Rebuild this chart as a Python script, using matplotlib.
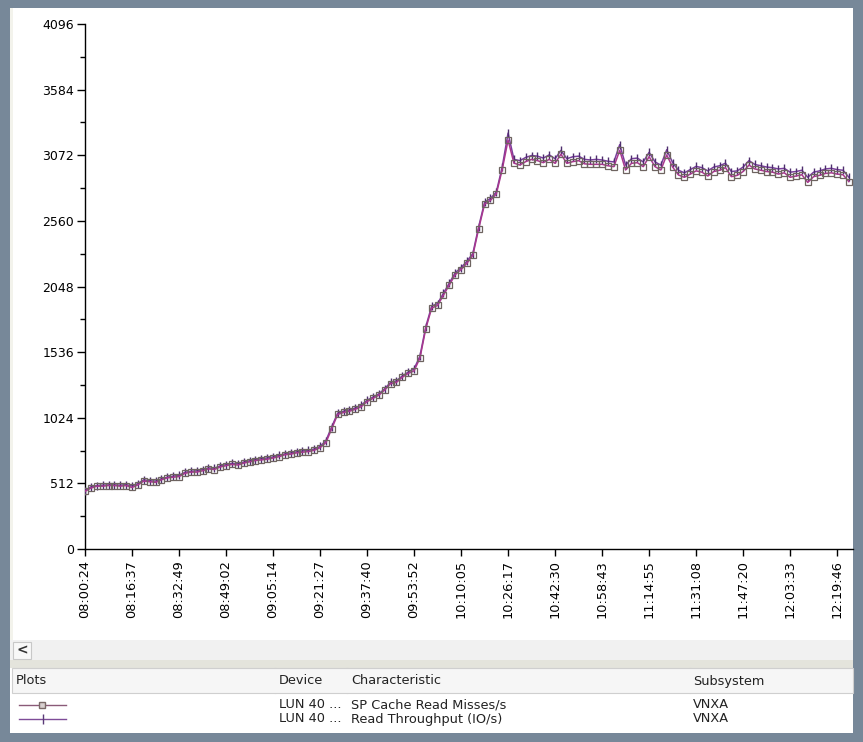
import matplotlib
matplotlib.use("Agg")
import matplotlib.pyplot as plt
from matplotlib.patches import Rectangle
from matplotlib.lines import Line2D

# ---------------- data ----------------
time_labels = ["08:00:24", "08:16:37", "08:32:49", "08:49:02", "09:05:14", "09:21:27",
               "09:37:40", "09:53:52", "10:10:05", "10:26:17", "10:42:30", "10:58:43",
               "11:14:55", "11:31:08", "11:47:20", "12:03:33", "12:19:46"]
y_ticks = [0, 512, 1024, 1536, 2048, 2560, 3072, 3584, 4096]

cache_read_misses = [
    450, 475, 490, 490, 495, 495, 490, 495, 480, 500,
    530, 525, 520, 540, 555, 560, 565, 590, 600, 600,
    610, 625, 620, 640, 650, 660, 655, 670, 680, 690,
    695, 700, 710, 720, 735, 740, 750, 755, 760, 770,
    790, 830, 940, 1050, 1065, 1075, 1090, 1110, 1150, 1175,
    1200, 1240, 1290, 1300, 1340, 1370, 1390, 1490, 1720, 1880,
    1900, 1980, 2060, 2140, 2180, 2230, 2290, 2500, 2690, 2720,
    2770, 2960, 3190, 3010, 2996, 3022, 3040, 3030, 3014, 3040,
    3009, 3080, 3009, 3022, 3030, 3005, 3001, 3001, 3001, 2990,
    2983, 3110, 2957, 3009, 3014, 2983, 3061, 2983, 2957, 3074,
    2980, 2918, 2900, 2925, 2950, 2940, 2910, 2945, 2955, 2975,
    2905, 2915, 2945, 2995, 2965, 2955, 2945, 2940, 2925, 2935,
    2900, 2910, 2920, 2860, 2905, 2915, 2930, 2935, 2925, 2920, 2866]

read_throughput = [
    455, 485, 495, 498, 500, 500, 498, 502, 492, 510,
    540, 532, 530, 548, 560, 568, 575, 598, 606, 610,
    620, 632, 630, 648, 658, 668, 665, 678, 688, 698,
    705, 710, 718, 730, 742, 750, 758, 765, 770, 780,
    800, 845, 955, 1060, 1075, 1085, 1100, 1122, 1160, 1185,
    1210, 1250, 1300, 1312, 1350, 1380, 1405, 1505, 1735, 1895,
    1915, 1995, 2075, 2155, 2195, 2245, 2305, 2515, 2705, 2735,
    2785, 2980, 3245, 3040, 3030, 3055, 3070, 3065, 3050, 3075,
    3045, 3110, 3045, 3060, 3065, 3040, 3035, 3040, 3035, 3025,
    3020, 3155, 2995, 3045, 3050, 3020, 3095, 3020, 2995, 3115,
    3015, 2955, 2935, 2960, 2985, 2975, 2950, 2980, 2990, 3010,
    2945, 2950, 2980, 3030, 3000, 2990, 2980, 2975, 2965, 2970,
    2940, 2945, 2955, 2900, 2940, 2950, 2965, 2970, 2960, 2955, 2900]

table_header = ["Plots", "Device", "Characteristic", "Subsystem"]
table_rows = [["LUN 40 ...", "SP Cache Read Misses/s", "VNXA"],
              ["LUN 40 ...", "Read Throughput (IO/s)", "VNXA"]]

# ---------------- figure ----------------
W, H = 863, 742
fig = plt.figure(figsize=(W / 100, H / 100), dpi=100)
fig.patch.set_facecolor("#778899")
plt.rcParams["font.family"] = ["DejaVu Sans"]

def fx(x):
    return x / W

def fy(y):
    return 1 - y / H

def rect(x0, y0, x1, y1, fc, ec="none", lw=0, z=-2):
    fig.patches.append(Rectangle((fx(x0), fy(y1)), (x1 - x0) / W, (y1 - y0) / H,
                                 transform=fig.transFigure, facecolor=fc,
                                 edgecolor=ec, linewidth=lw, zorder=z))

def vline(x, y0, y1, c, lw=1, z=-1):
    fig.add_artist(Line2D([fx(x), fx(x)], [fy(y0), fy(y1)], transform=fig.transFigure,
                          color=c, linewidth=lw, zorder=z))

# panel background
rect(10, 8, 853, 733, "white", z=-3)
rect(10, 8, 13, 640, "#F3F3EC")
# scrollbar row
rect(10, 640, 853, 660, "#F1F1F1")
rect(13, 642, 31, 659, "#F8F8F8", ec="#C8C8C8", lw=0.8, z=-1)
fig.text(fx(22), fy(650.5), "<", ha="center", va="center", fontsize=10,
         fontweight="bold", color="#333333")
rect(10, 660, 853, 668, "#E4E4DC")
# table header
rect(12, 668, 853, 693, "#F6F6F6", ec="#CFCFCF", lw=0.8, z=-1)
for sx in (275, 347, 690):
    vline(sx, 668, 693, "#CFCFCF", 0.8)
hdr_x = [16, 279, 351, 693]
for tx, txt in zip(hdr_x, table_header):
    fig.text(fx(tx), fy(681), txt, ha="left", va="center", fontsize=9.3, color="#222222")
row_y = [705, 719]
for ry, row in zip(row_y, table_rows):
    for tx, txt in zip(hdr_x[1:], row):
        fig.text(fx(tx), fy(ry), txt, ha="left", va="center", fontsize=9.3, color="#222222")

# legend glyphs in table
fig.add_artist(Line2D([fx(19), fx(42), fx(66)], [fy(705), fy(705), fy(705)],
                      transform=fig.transFigure,
                      color="#8A5A78", linewidth=1.0, marker="s", markevery=[1],
                      markersize=4, markerfacecolor="#D8D0D0", markeredgecolor="#7A6A68",
                      zorder=3))
fig.add_artist(Line2D([fx(19), fx(43), fx(66)], [fy(719), fy(719), fy(719)],
                      transform=fig.transFigure, color="#7E4C98", linewidth=1.0,
                      marker="|", markevery=[1], markersize=7,
                      markeredgecolor="#5A3A78", zorder=3))

# ---------------- chart ----------------
ax = fig.add_axes([fx(85), fy(549), (853 - 85) / W, (549 - 24) / H])
ax.set_zorder(5)
ax.set_facecolor("white")
xs = list(range(len(cache_read_misses)))

ax.plot(xs, read_throughput, color="#7A3E9D", linewidth=1.1, marker="|",
        markersize=6, markeredgecolor="#4E2E6E", markeredgewidth=1.0, zorder=3)
ax.plot(xs, cache_read_misses, color="#A8388E", linewidth=1.1, marker="s",
        markersize=4, markerfacecolor="none", markeredgecolor="#6E6460",
        markeredgewidth=0.9, zorder=4)

ax.set_ylim(0, 4096)
ax.set_xlim(0, 130.7)
ax.set_yticks(y_ticks)
ax.set_yticklabels([str(v) for v in y_ticks])
ax.set_yticks([256 + 512 * k for k in range(8)], minor=True)
ax.set_xticks([8 * k for k in range(len(time_labels))])
ax.set_xticklabels(time_labels, rotation=90, fontsize=9.3)

for s in ("top", "right"):
    ax.spines[s].set_visible(False)
for s in ("left", "bottom"):
    ax.spines[s].set_color("black")
    ax.spines[s].set_linewidth(1.0)

ax.tick_params(axis="y", which="major", direction="out", length=6, width=1,
               labelsize=9, colors="black", pad=2)
ax.tick_params(axis="y", which="minor", direction="out", length=3.5, width=1)
ax.tick_params(axis="x", which="major", direction="out", length=5, width=1,
               colors="black", pad=3)

fig.savefig("out.png", dpi=100, facecolor=fig.get_facecolor())
